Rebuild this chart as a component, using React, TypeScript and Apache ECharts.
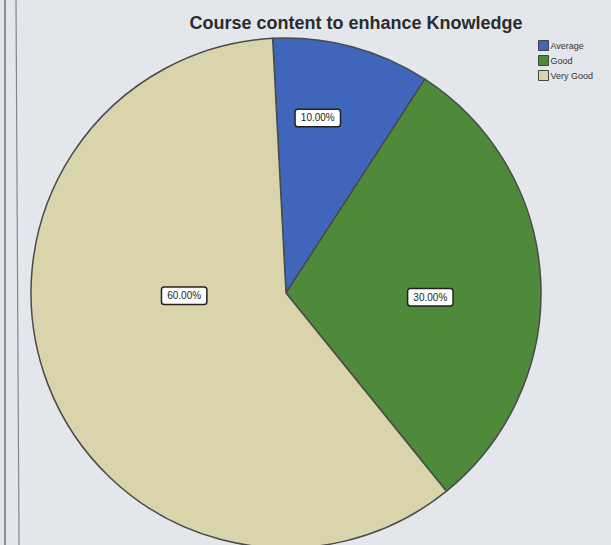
import React, { useEffect, useRef } from "react";
import * as echarts from "echarts";

const titleText = "Course content to enhance Knowledge";
const categories = ["Average", "Good", "Very Good"];
const percents = [10, 30, 60];
const colors = ["#3f66bb", "#4f8a3b", "#d9d4ab"];
const labelOffsets = [
  [-2, -49],
  [14, 11],
  [20, -44],
];

export default function App() {
  const ref = useRef<HTMLDivElement>(null);
  useEffect(() => {
    if (!ref.current) return;
    const chart = echarts.init(ref.current, undefined, { renderer: "svg" });
    chart.setOption({
      animation: false,
      backgroundColor: "#e3e7ec",
      title: {
        text: titleText,
        left: 351,
        top: 9,
        textAlign: "center",
        textStyle: {
          fontFamily: "Liberation Sans, Arial, sans-serif",
          fontWeight: "bold",
          fontSize: 18,
          color: "#2b2b2d",
        },
      },
      legend: {
        orient: "vertical",
        left: 533,
        top: 35,
        itemWidth: 10,
        itemHeight: 10,
        itemGap: 4,
        icon: "rect",
        data: categories,
        textStyle: {
          fontFamily: "Liberation Sans, Arial, sans-serif",
          fontSize: 9,
          color: "#333",
          padding: [0, 0, 0, -3],
        },
        itemStyle: { borderColor: "#444", borderWidth: 1 },
      },
      graphic: [
        { type: "line", shape: { x1: 5, y1: 0, x2: 5, y2: 545 }, style: { stroke: "#707480", lineWidth: 1.5 } },
        { type: "line", shape: { x1: 16, y1: 0, x2: 19, y2: 545 }, style: { stroke: "#808490", lineWidth: 1.2 } },
      ],
      series: [
        {
          type: "pie",
          center: [286, 293],
          radius: 255,
          startAngle: 93,
          clockwise: true,
          avoidLabelOverlap: false,
          itemStyle: { borderColor: "#4a4a4a", borderWidth: 1.5 },
          labelLine: { show: false },
          emphasis: { disabled: true },
          data: categories.map((c, i) => ({
            name: c,
            value: percents[i],
            itemStyle: { color: colors[i] },
            label: {
              show: true,
              position: "inside",
              offset: labelOffsets[i],
              formatter: percents[i].toFixed(2) + "%",
              backgroundColor: "#ffffff",
              borderColor: "#222",
              borderWidth: 1.5,
              borderRadius: 2,
              padding: [3, 5],
              color: "#222",
              fontSize: 10,
              fontFamily: "Liberation Sans, Arial, sans-serif",
            },
          })),
        },
      ],
    });
    return () => chart.dispose();
  }, []);
  return (
    <div
      ref={ref}
      style={{ position: "fixed", left: 0, top: 0, width: 611, height: 545 }}
    />
  );
}
